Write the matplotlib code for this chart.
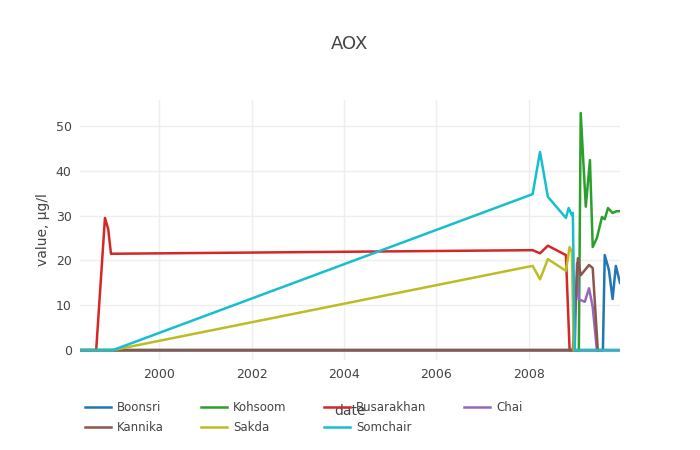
import matplotlib
matplotlib.use("Agg")
import matplotlib.pyplot as plt

# dates as decimal years, values in ug/l
boonsri_x = [1998.29, 2009.60, 2009.64, 2009.73, 2009.81, 2009.88, 2009.97]
boonsri_y = [0, 0, 21.2, 17.9, 11.4, 18.8, 15.0]
kohsoom_x = [1998.29, 2009.08, 2009.12, 2009.23, 2009.32, 2009.38, 2009.47, 2009.58, 2009.64, 2009.71, 2009.81, 2009.90, 2009.97]
kohsoom_y = [0, 0, 52.9, 32.0, 42.4, 23.0, 25.0, 29.7, 29.2, 31.7, 30.6, 31.0, 31.0]
busarakhan_x = [1998.29, 1998.64, 1998.83, 1998.90, 1998.96, 2008.08, 2008.24, 2008.41, 2008.80, 2008.88, 2009.97]
busarakhan_y = [0, 0, 29.5, 27.0, 21.5, 22.3, 21.6, 23.3, 21.2, 0, 0]
chai_x = [1998.29, 2008.99, 2009.04, 2009.08, 2009.21, 2009.30, 2009.38, 2009.47, 2009.97]
chai_y = [0, 0, 19.4, 11.3, 10.8, 13.8, 9.6, 0, 0]
kannika_x = [1998.29, 2008.95, 2009.06, 2009.12, 2009.30, 2009.38, 2009.49]
kannika_y = [0, 0, 20.5, 16.7, 19.0, 18.3, 0]
sakda_x = [1998.29, 1999.00, 2008.08, 2008.24, 2008.41, 2008.80, 2008.88, 2008.93, 2008.97]
sakda_y = [0, 0, 18.8, 15.8, 20.3, 17.7, 23.0, 21.9, 0]
somchair_x = [1998.29, 1999.00, 2008.08, 2008.24, 2008.41, 2008.80, 2008.86, 2008.93, 2008.95, 2008.99, 2009.97]
somchair_y = [0, 0, 34.8, 44.2, 34.2, 29.5, 31.7, 30.1, 30.6, 0, 0]

fig = plt.figure(figsize=(7, 4.5), dpi=100)
ax = fig.add_axes([80/700, 90/450, 540/700, 260/450])

series = [
    ("Boonsri", boonsri_x, boonsri_y, "#1f77b4"),
    ("Kohsoom", kohsoom_x, kohsoom_y, "#2ca02c"),
    ("Busarakhan", busarakhan_x, busarakhan_y, "#d62728"),
    ("Chai", chai_x, chai_y, "#9467bd"),
    ("Kannika", kannika_x, kannika_y, "#8c564b"),
    ("Sakda", sakda_x, sakda_y, "#bcbd22"),
    ("Somchair", somchair_x, somchair_y, "#17becf"),
]
lines = {}
for name, x, y, c in series:
    lines[name], = ax.plot(x, y, color=c, lw=1.8, label=name)

ax.set_xlim(1998.29, 2009.97)
ax.set_ylim(-2.2, 55.8)
ax.set_xticks([2000, 2002, 2004, 2006, 2008])
ax.set_yticks([0, 10, 20, 30, 40, 50])
ax.grid(color="#eeeeee", lw=1)
ax.set_axisbelow(True)
for s in ax.spines.values():
    s.set_visible(False)
ax.tick_params(length=0, labelsize=9, colors="#444444", pad=6)
ax.set_ylabel("value, µg/l", fontsize=10, color="#444444")
fig.text(350/700, 1 - 44/450, "AOX", ha="center", va="center", fontsize=13, color="#444444")
fig.text(350/700, 1 - 411/450, "date", ha="center", va="center", fontsize=10, color="#444444")

# legend filled row by row like the reference
order = ["Boonsri", "Kannika", "Kohsoom", "Sakda", "Busarakhan", "Somchair", "Chai"]
leg = fig.legend([lines[n] for n in order], order, loc="upper left",
                 bbox_to_anchor=(80/700, 1 - 396/450), ncol=4, frameon=False,
                 fontsize=8.5, handlelength=2.2, handletextpad=0.5,
                 columnspacing=3.2, labelspacing=0.6, labelcolor="#444444",
                 borderaxespad=0)

fig.savefig("out.png", dpi=100)
